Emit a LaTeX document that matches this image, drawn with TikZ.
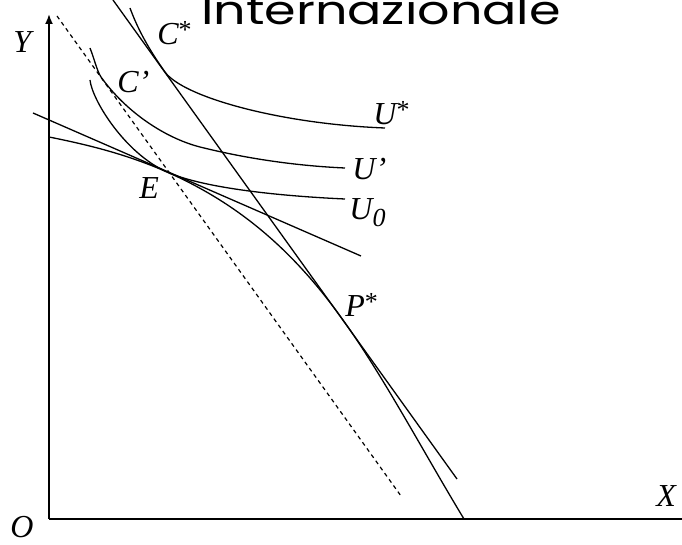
\documentclass[tikz,border=0pt]{standalone}
\usepackage{fontspec}
\setmainfont{Liberation Serif}
\newfontfamily\titlefont{Poppins}
\usepackage{tikz}
\usetikzlibrary{
    arrows.meta
}
\newcommand{\starmark}{{\fontsize{13}{13}\selectfont\upshape\raisebox{3pt}{*}}}
\newcommand{\lowzero}{{\fontsize{13}{13}\selectfont\raisebox{-3.5pt}{0}}}

\begin{document}
\begin{tikzpicture}[
    x=0.5pt, y=-0.5pt,
    lbl/.style={
        anchor=base west,
        inner sep=0pt,
        font=\fontsize{16}{18}\selectfont\itshape
    },
    curve/.style={line width=0.65pt},
    axis/.style={line width=0.9pt},
    trade/.style={line width=0.6pt, dash pattern=on 2pt off 1.8pt}
]
\useasboundingbox (0,0) rectangle (682,545);
\clip (0,0) rectangle (682,545);

\node[anchor=base, inner sep=0pt, font=\titlefont\fontsize{20}{24}\selectfont] (title) at (381,25) {\scalebox{1.27}[1]{Internazionale}};

\coordinate (o) at (49,519);
\coordinate (ytop) at (49,14);
\coordinate (xend) at (682,519);
\coordinate (e) at (167,172);
\coordinate (cs) at (165,72);
\coordinate (cp) at (101,77);
\coordinate (ps) at (343,320);

\draw[axis,-{Latex[length=5pt,width=4pt]}] (o) -- (ytop);
\draw[axis] (o) -- (xend);

\coordinate (p1) at (33,113);
\coordinate (p2) at (361,256);
\coordinate (t1) at (113,0);
\coordinate (t2) at (457,479);
\coordinate (d1) at (57,16);
\coordinate (d2) at (401,496);

\draw[curve] (p1) -- (p2);
\draw[curve] (t1) -- (t2);
\draw[trade] (d1) -- (d2);

% frontier
\draw[curve] (49,137) .. controls (89,145) and (127,154.4) .. (e)
    .. controls (237,203) and (292,248.5) .. (ps)
    .. controls (383,375.6) and (424,453) .. (464,519);

% indifference curves
\draw[curve] (90,80) .. controls (92,100) and (125,153.5) .. (e)
    .. controls (207,189.6) and (290,196.5) .. (345,199);
\draw[curve] (90,48) .. controls (94,58) and (97,71) .. (cp)
    .. controls (126,112) and (165,138) .. (200,147)
    .. controls (250,159.5) and (300,166) .. (345,168);
\draw[curve] (130,8) .. controls (138,30) and (150,51) .. (cs)
    .. controls (183,97) and (280,124) .. (385,128);

\node[lbl] (ly) at (13,53) {Y};
\node[lbl] (lo) at (10,538) {O};
\node[lbl] (lx) at (656,507) {X};
\node[lbl] (lcs) at (157,45) {C\starmark};
\node[lbl] (lcp) at (117,93) {C'};
\node[lbl] (le) at (139,199) {E};
\node[lbl] (lus) at (373,125) {U\starmark};
\node[lbl] (lup) at (352,180) {U'};
\node[lbl] (lu0) at (349,220) {U\lowzero};
\node[lbl] (lps) at (345,317) {P\starmark};

\end{tikzpicture}
\end{document}
